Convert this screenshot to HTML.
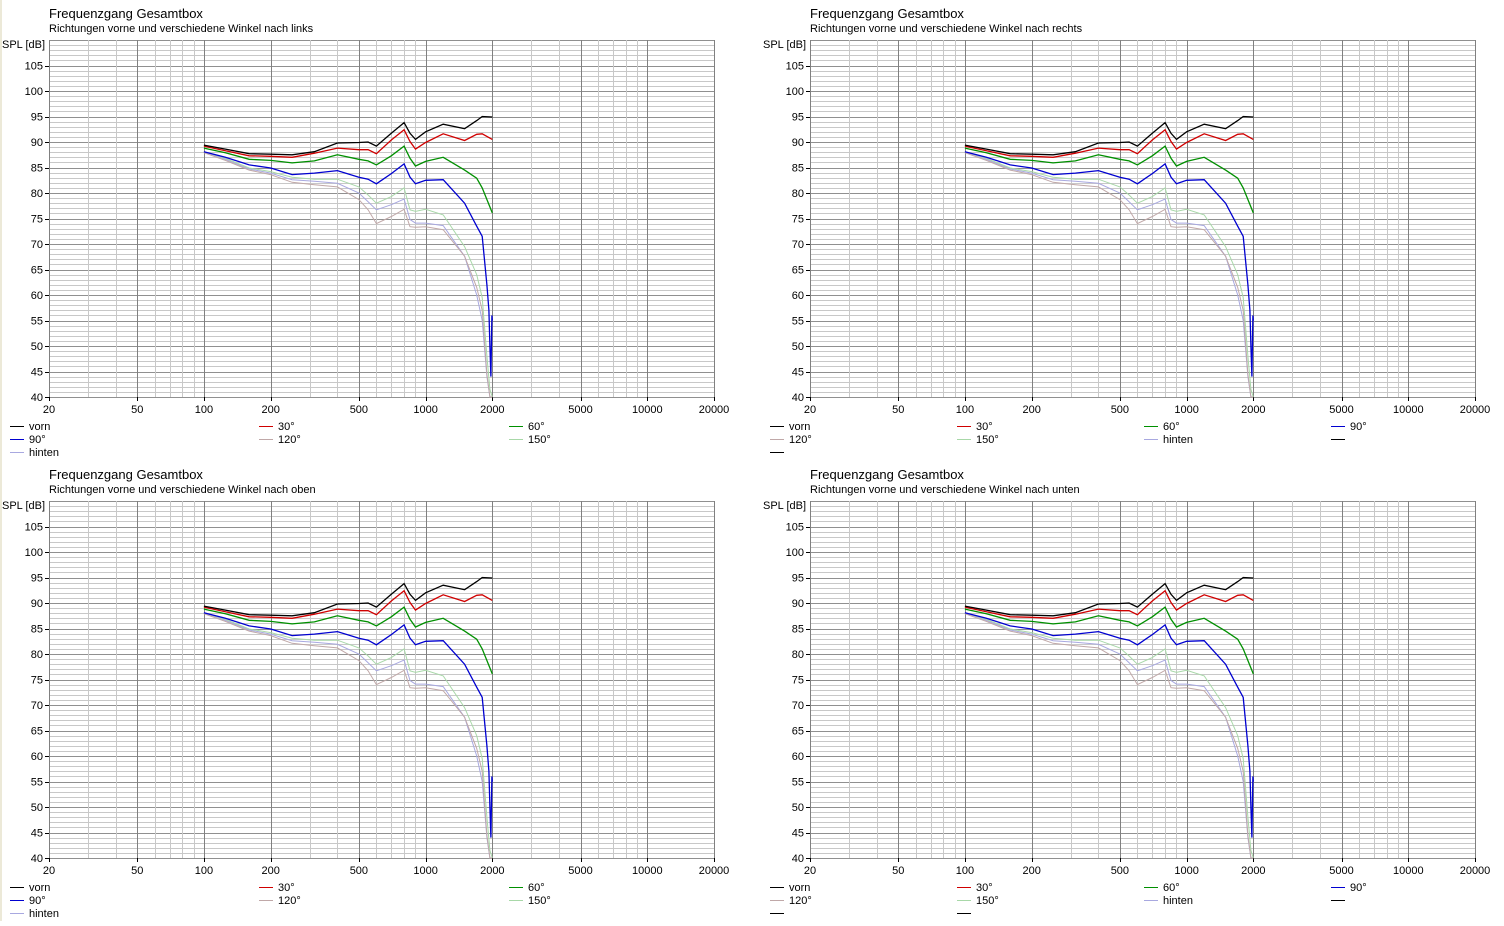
<!DOCTYPE html>
<html><head><meta charset="utf-8"><style>
body{margin:0;background:#fff;width:1504px;height:921px;overflow:hidden}
svg text{font-family:"Liberation Sans",sans-serif;font-size:11px;fill:#000}
</style></head><body>
<svg id="root" width="1504" height="921" xmlns="http://www.w3.org/2000/svg">
<rect x="0" y="0" width="1504" height="921" fill="#fff"/>
<rect x="0" y="0" width="2" height="921" fill="#ece9d8"/>
</svg>
<script>
const baseFreq=[100,125,160,200,250,315,400,500,550,600,700,800,850,900,1000,1200,1500];
const vornFreq=baseFreq.concat([1700,1800,2000]);
const vornDb=[89.4,88.6,87.7,87.6,87.5,88.1,89.8,89.9,90.0,89.2,91.7,93.8,91.7,90.5,92.0,93.5,92.6,94.2,95.0,94.9];
const d30Db=[89.2,88.3,87.3,87.2,87.0,87.8,88.8,88.5,88.5,87.7,90.4,92.4,90.1,88.6,89.9,91.6,90.3,91.5,91.6,90.5];
const d60Db=[88.8,87.9,86.6,86.4,85.9,86.3,87.5,86.6,86.3,85.5,87.3,89.2,86.8,85.3,86.2,87.0,84.5,82.9,81.0,76.1];
const d90Freq=baseFreq.concat([1700,1800,1890,1930,1950,1970,1990,2000]);
const d90Db=[88.1,87.0,85.5,84.9,83.6,83.9,84.4,83.1,82.7,81.8,83.8,85.7,83.1,81.8,82.5,82.6,78.0,73.5,71.5,62,57,50,44,56,55];
const tailFreq=baseFreq.concat([1700,1800,1890,1950,2000]);
const d150Db=[88.1,86.8,84.9,84.2,83.1,82.7,82.7,81.2,79.6,78.0,79.3,81.0,76.7,76.4,76.8,75.7,69.5,64,59.5,48,41.5,40];
const hintenDb=[88.1,86.6,84.7,83.9,82.6,82.3,81.9,80.0,78.3,76.7,77.7,78.8,74.8,74.1,74.1,73.6,67.6,60,55,44,40,40];
const d120Db=[87.9,86.4,84.5,83.6,82.1,81.6,81.2,78.7,76.7,74.0,75.4,76.8,73.4,73.3,73.4,72.8,67.6,61.5,57,44.5,40,40];
const yTicks=[40,45,50,55,60,65,70,75,80,85,90,95,100,105];
const xTicks=[20,50,100,200,500,1000,2000,5000,10000,20000];

const series=[
 {name:'vorn',f:vornFreq,d:vornDb,c:'#000000'},
 {name:'30°',f:vornFreq,d:d30Db,c:'#d00000'},
 {name:'60°',f:vornFreq,d:d60Db,c:'#009000'},
 {name:'90°',f:d90Freq,d:d90Db,c:'#0000d0'},
 {name:'120°',f:tailFreq,d:d120Db,c:'#c0a8a8'},
 {name:'150°',f:tailFreq,d:d150Db,c:'#a8d8a8'},
 {name:'hinten',f:tailFreq,d:hintenDb,c:'#a8a8e0'}
];
const panels=[
 {ox:0,oy:0,sub:'Richtungen vorne und verschiedene Winkel nach links',cols:[10,259,509],
  leg:[[0,1,2],[3,4,5],[6]]},
 {ox:761,oy:0,sub:'Richtungen vorne und verschiedene Winkel nach rechts',cols:[9,196,383,570],
  leg:[[0,1,2,3],[4,5,6,-1],[-1]]},
 {ox:0,oy:461,sub:'Richtungen vorne und verschiedene Winkel nach oben',cols:[10,259,509],
  leg:[[0,1,2],[3,4,5],[6]]},
 {ox:761,oy:461,sub:'Richtungen vorne und verschiedene Winkel nach unten',cols:[9,196,383,570],
  leg:[[0,1,2,3],[4,5,6,-1],[-1,-1]]}
];
const NS='http://www.w3.org/2000/svg';
const root=document.getElementById('root');
const L=49,T=40,W=665,H=357;
function xs(f){return L+W*Math.log10(f/20)/3;}
function ys(d){return T+H*(110-Math.max(40,d))/70;}
function mk(tag,attrs,parent){const e=document.createElementNS(NS,tag);for(const k in attrs)e.setAttribute(k,attrs[k]);parent.appendChild(e);return e;}
panels.forEach((p,pi)=>{
 const g=mk('g',{transform:`translate(${p.ox},${p.oy})`},root);
 
 
 let t=mk('text',{x:49,y:18,style:'font-size:13px'},g);t.textContent='Frequenzgang Gesamtbox';
 
 
 t=mk('text',{x:49,y:32},g);t.textContent=p.sub;
 
 
 const grid=mk('g',{'shape-rendering':'crispEdges'},g);
 
 
 for(let d=40;d<=110;d++){const y=Math.round(ys(d))+0.5;
  mk('line',{x1:L,x2:L+W,y1:y,y2:y,stroke:d%5===0?'#909090':'#c8c8c8'},grid);}
 for(let dec=10;dec<=10000;dec*=10)for(let m=1;m<=9;m++){const f=dec*m;if(f<20||f>20000)continue;
  const x=Math.round(xs(f))+0.5;const dark=(m===1||m===2||m===5);
  mk('line',{x1:x,x2:x,y1:T,y2:T+H,stroke:dark?'#808080':'#c8c8c8'},grid);}
 mk('line',{x1:L+0.5,x2:L+0.5,y1:T,y2:T+H,stroke:'#808080','shape-rendering':'crispEdges'},g);
 yTicks.forEach(v=>{const y=ys(v);
  mk('line',{x1:L-4,x2:L,y1:Math.round(y)+0.5,y2:Math.round(y)+0.5,stroke:'#000'},g);
  const tx=mk('text',{x:L-6,y:y+4,'text-anchor':'end'},g);tx.textContent=v;
  
  });
 let sp=mk('text',{x:2,y:48},g);sp.textContent='SPL [dB]';
 
 
 xTicks.forEach(v=>{const x=xs(v);
  mk('line',{x1:Math.round(x)+0.5,x2:Math.round(x)+0.5,y1:T+H,y2:T+H+4,stroke:'#000'},g);
  const tx=mk('text',{x:x,y:T+H+16,'text-anchor':'middle'},g);tx.textContent=v;
  
  });
 series.slice().reverse().forEach(s=>{
  const pts=s.f.map((f,i)=>xs(f).toFixed(1)+','+ys(s.d[i]).toFixed(1)).join(' ');
  const pl=mk('polyline',{points:pts,fill:'none',stroke:s.c,'stroke-width':s.name==='90°'||s.name==='vorn'||s.name==='30°'||s.name==='60°'?1.3:1},g);
  
  
 });
 p.leg.forEach((row,ri)=>row.forEach((si,ci)=>{
  const x=p.cols[ci],y=426+ri*13;
  const s=si>=0?series[si]:null;
  const lg=mk('g',{},g);
  
  
  mk('line',{x1:x,x2:x+14,y1:y+0.5,y2:y+0.5,stroke:s?s.c:'#000','shape-rendering':'crispEdges'},lg);
  if(s){const tx=mk('text',{x:x+19,y:y+4},lg);tx.textContent=s.name;}
 }));
});
</script>
</body></html>
